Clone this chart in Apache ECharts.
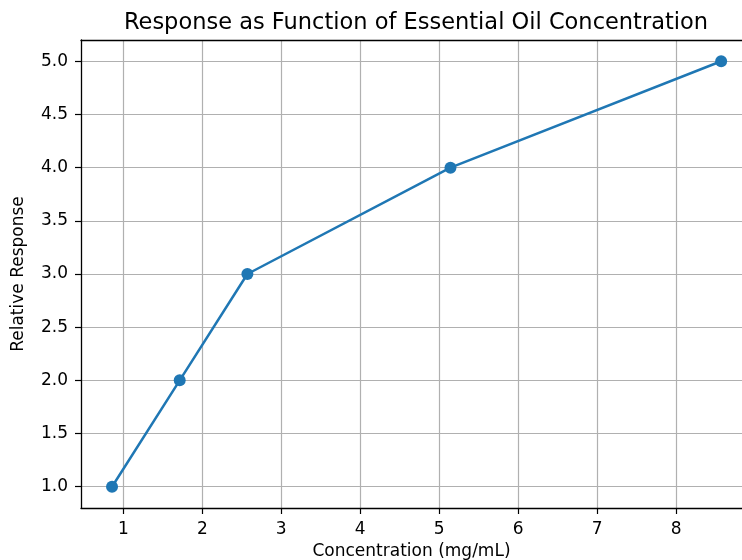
<!DOCTYPE html>
<html>
<head>
<meta charset="utf-8">
<script src="https://cdn.jsdelivr.net/npm/echarts@6/dist/echarts.min.js"></script>
<style>html,body{margin:0;padding:0;background:#fff;}#c{width:742px;height:560px;}</style>
</head>
<body>
<div id="c"></div>
<script>
const concentration = [0.857, 1.714, 2.571, 5.143, 8.571];
const response = [1.0, 2.0, 3.0, 4.0, 5.0];
const xTicks = [1, 2, 3, 4, 5, 6, 7, 8];
const yTicks = [1.0, 1.5, 2.0, 2.5, 3.0, 3.5, 4.0, 4.5, 5.0];

const chart = echarts.init(document.getElementById('c'));
const font = 'DejaVu Sans';
const xMin = 0.464, xMax = 8.835;
chart.setOption({
  animation: false,
  backgroundColor: '#fff',
  title: {
    text: 'Response as Function of Essential Oil Concentration',
    left: 411, top: 7, textAlign: 'center',
    textStyle: { fontFamily: font, fontSize: 22.5, fontWeight: 'normal', color: '#000' }
  },
  grid: {
    left: 81, top: 40, right: 0, height: 468,
    show: false, outerBoundsMode: 'none', containLabel: false
  },
  xAxis: [{
    type: 'value', min: xMin, max: xMax,
    name: 'Concentration (mg/mL)', nameLocation: 'middle', nameGap: 35,
    nameTextStyle: { fontFamily: font, fontSize: 17, color: '#000' },
    axisLine: { show: true, onZero: false, lineStyle: { color: '#000', width: 1.3 } },
    axisTick: { show: true, inside: false, length: 6, lineStyle: { color: '#000', width: 1.2 }, customValues: xTicks },
    axisLabel: { customValues: xTicks, fontFamily: font, fontSize: 17, color: '#000', margin: 13 },
    splitLine: { show: true, lineStyle: { color: '#b0b0b0', width: 1.2 } }
  }, {
    type: 'value', position: 'top', min: xMin, max: xMax,
    axisLine: { show: true, onZero: false, lineStyle: { color: '#000', width: 1.3 } },
    axisTick: { show: false }, axisLabel: { show: false }, splitLine: { show: false }
  }],
  yAxis: {
    type: 'value', min: 0.8, max: 5.2,
    name: 'Relative Response', nameLocation: 'middle', nameGap: 54,
    nameTextStyle: { fontFamily: font, fontSize: 17, color: '#000' },
    axisLine: { show: true, onZero: false, lineStyle: { color: '#000', width: 1.3 } },
    axisTick: { show: true, inside: false, length: 6, lineStyle: { color: '#000', width: 1.2 }, customValues: yTicks },
    axisLabel: { customValues: yTicks, fontFamily: font, fontSize: 17, color: '#000', margin: 13,
      formatter: v => v.toFixed(1) },
    splitLine: { show: true, lineStyle: { color: '#b0b0b0', width: 1.2 } }
  },
  series: [{
    type: 'line',
    data: concentration.map((x, i) => [x, response[i]]),
    symbol: 'circle', symbolSize: 12,
    itemStyle: { color: '#1f77b4' },
    lineStyle: { color: '#1f77b4', width: 2.5 },
    clip: false
  }]
});
</script>
</body>
</html>
